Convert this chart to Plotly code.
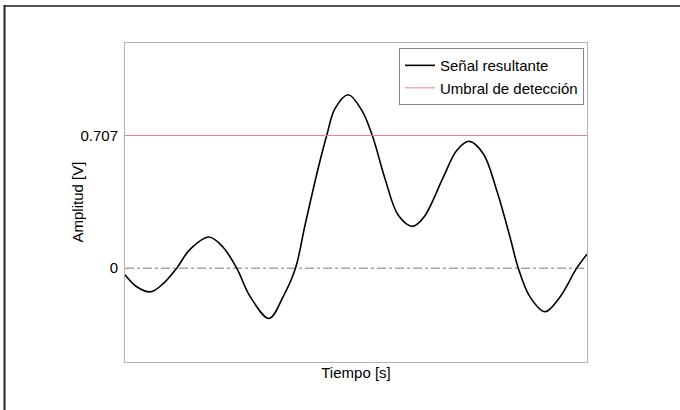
import plotly.graph_objects as go

# Data
tiempo = [0.0, 0.253, 0.556, 0.829, 1.119, 1.407, 1.818, 2.128, 2.418, 2.706,
          3.117, 3.426, 3.690, 3.896, 4.184, 4.366, 4.545, 4.833, 5.123, 5.353,
          5.628, 5.916, 6.223, 6.472, 6.890, 7.180, 7.452, 7.755, 8.045, 8.333,
          8.513, 8.766, 9.091, 9.416, 9.777, 10.0]
senal = [-0.035, -0.099, -0.126, -0.082, 0.0, 0.100, 0.166, 0.110, 0.0, -0.150,
         -0.268, -0.150, 0.0, 0.229, 0.535, 0.707, 0.850, 0.924, 0.842, 0.707,
         0.477, 0.282, 0.223, 0.273, 0.485, 0.627, 0.676, 0.610, 0.415, 0.166,
         0.0, -0.153, -0.232, -0.153, 0.0, 0.074]
umbral = 0.707
t_range = [0.0, 10.0]
y_range = [-0.5, 1.2]
y_ticks = [0, 0.707]
y_ticklabels = ["0", "0.707"]

W, H = 680, 410
ML, MR, MT, MB = 125, 93, 43, 48
pw, ph = W - ML - MR, H - MT - MB

fig = go.Figure()
fig.add_trace(go.Scatter(x=t_range, y=[0, 0], mode="lines", showlegend=False,
                         line=dict(color="#7a7a7a", width=1, dash="dashdot"),
                         hoverinfo="skip"))
fig.add_trace(go.Scatter(x=tiempo, y=senal, mode="lines", name="Señal resultante",
                         line=dict(color="black", width=1.6, shape="spline", smoothing=1.0)))
fig.add_trace(go.Scatter(x=t_range, y=[umbral, umbral], mode="lines",
                         name="Umbral de detección",
                         line=dict(color="#f08080", width=1)))

font = dict(family="Liberation Sans, Arial, sans-serif", size=15, color="black")

fig.update_layout(
    width=W, height=H,
    margin=dict(l=ML, r=MR, t=MT, b=MB, autoexpand=False),
    paper_bgcolor="white", plot_bgcolor="white",
    font=font,
    xaxis=dict(range=t_range, showgrid=False, zeroline=False, showticklabels=False,
               ticks="", showline=True, linecolor="#b4b4b4", linewidth=1, mirror=True,
               title=dict(text="Tiempo [s]", standoff=5, font=dict(size=15))),
    yaxis=dict(range=y_range, showgrid=False, zeroline=False, tickvals=y_ticks,
               ticktext=y_ticklabels, ticks="", showline=True, linecolor="#b4b4b4",
               linewidth=1, mirror=True, ticklabelstandoff=3, tickfont=dict(size=15)),
    legend=dict(x=0.9935, y=0.984, xanchor="right", yanchor="top",
                bgcolor="white", bordercolor="#888888", borderwidth=1,
                font=dict(size=15), tracegroupgap=0, itemwidth=30),
    annotations=[
        dict(text="Amplitud [V]", textangle=-90, xref="paper", yref="paper",
             x=(77 - ML) / pw, y=0.5, xanchor="center", yanchor="middle",
             showarrow=False, font=dict(size=15)),
    ],
    shapes=[
        dict(type="line", xref="paper", yref="paper",
             x0=(4 - ML) / pw, x1=(W + 5 - ML) / pw,
             y0=(H - MB - 6) / ph, y1=(H - MB - 6) / ph,
             line=dict(color="#555555", width=2)),
        dict(type="line", xref="paper", yref="paper",
             x0=(4.5 - ML) / pw, x1=(4.5 - ML) / pw,
             y0=(H - MB - 5) / ph, y1=-(MB + 5) / ph,
             line=dict(color="#222222", width=2)),
    ],
)

fig.write_html("out.html", config={"displayModeBar": False},
               post_script="document.body.style.margin='0';")
